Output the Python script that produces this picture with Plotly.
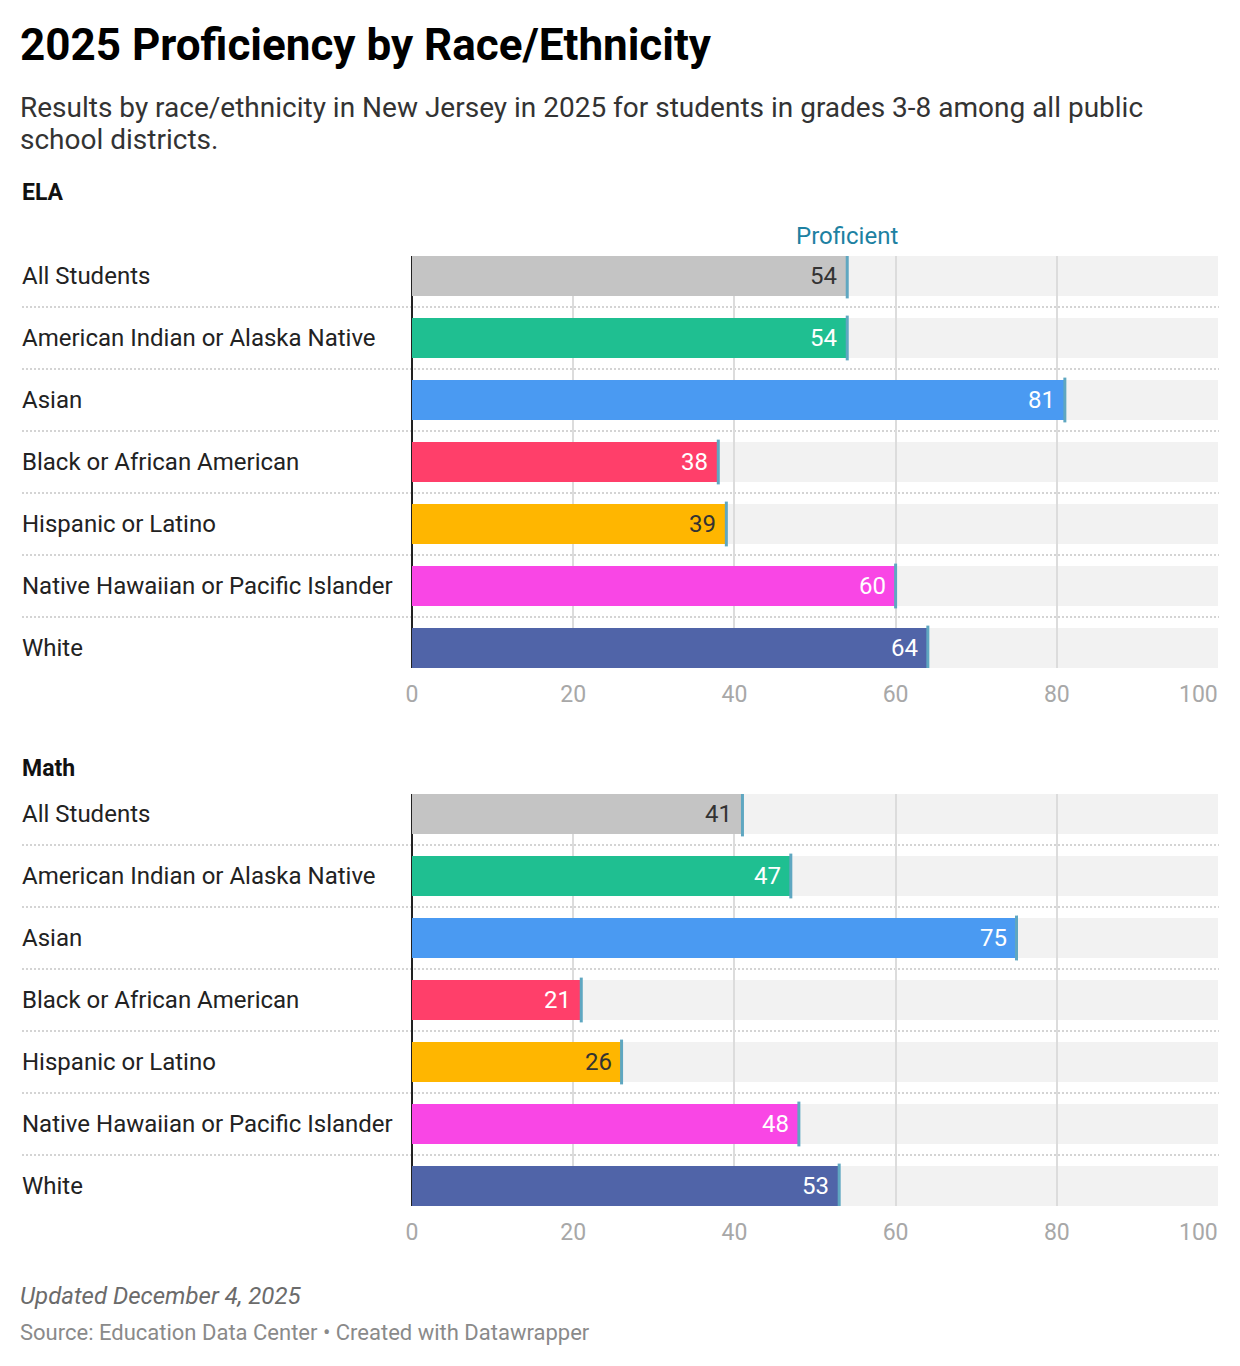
import plotly.graph_objects as go

# data
groups = ["All Students", "American Indian or Alaska Native", "Asian",
          "Black or African American", "Hispanic or Latino",
          "Native Hawaiian or Pacific Islander", "White"]
ela = [54, 54, 81, 38, 39, 60, 64]
math = [41, 47, 75, 21, 26, 48, 53]
colors = ["#c4c4c4", "#1fbf91", "#4a9af2", "#ff3f6a", "#ffb600", "#f946e5", "#5064a8"]
label_colors = ["#333333", "#ffffff", "#ffffff", "#ffffff", "#333333", "#ffffff", "#ffffff"]
ticks = [0, 20, 40, 60, 80, 100]

# the page body adds an 8px margin, so the figure is 16px smaller than the window
PAD = 8
W, H = 1240 - 2 * PAD, 1366 - 2 * PAD
FONT = "Roboto"
MARK = "#5fa7c1"
HALF = 20 / 62  # half bar height in row units
TICKFONT = dict(family=FONT, size=23, color="#a8a8a8")


def px(x):
    # window pixel column -> paper x
    return (x - PAD) / W


def py(y):
    # window pixel row -> paper y
    return 1 - (y - PAD) / H


fig = go.Figure()
annotations = []
shapes = []

# name, values, axes, header row, tick label row
panels = [("ELA", ela, "x", "y", 192, 694), ("Math", math, "x2", "y2", 768, 1232)]
for name, vals, xa, ya, head_y, tick_y in panels:
    fig.add_trace(go.Bar(x=vals, y=groups, orientation="h", width=2 * HALF,
                         marker=dict(color=colors, line=dict(width=0)),
                         xaxis=xa, yaxis=ya, hoverinfo="skip"))
    # "Proficient" tick at the end of each bar
    fig.add_trace(go.Scatter(x=vals, y=groups, mode="markers",
                             marker=dict(symbol="line-ns", size=32,
                                         line=dict(width=3, color=MARK)),
                             xaxis=xa, yaxis=ya, hoverinfo="skip"))
    # grey "track" behind each bar
    for i in range(len(groups)):
        shapes.append(dict(type="rect", xref=xa, yref=ya, x0=0, x1=100,
                           y0=i - HALF, y1=i + HALF, fillcolor="#f2f2f2",
                           line=dict(width=0), layer="below"))
    # dotted separators between rows
    for i in range(len(groups) - 1):
        shapes.append(dict(type="line", xref="paper", yref=ya,
                           x0=px(22), x1=px(1219), y0=i + 0.5, y1=i + 0.5,
                           line=dict(color="#d4d4d4", width=2, dash="2px,2px"),
                           layer="below"))
    for g, v, lc in zip(groups, vals, label_colors):
        annotations.append(dict(xref="paper", yref=ya, x=px(20), y=g, text=g,
                                xanchor="left", yanchor="middle", showarrow=False,
                                font=dict(family=FONT, size=24, color="#222")))
        annotations.append(dict(xref=xa, yref=ya, x=v, y=g, text=str(v),
                                xanchor="right", yanchor="middle", xshift=-8,
                                showarrow=False,
                                font=dict(family=FONT, size=24, color=lc)))
    annotations.append(dict(xref="paper", yref="paper", x=px(20), y=py(head_y),
                            text="<b>%s</b>" % name, xanchor="left", yanchor="middle",
                            showarrow=False, font=dict(family=FONT, size=23, color="#111")))
    # last tick label sits flush with the end of the axis
    annotations.append(dict(xref=xa, yref="paper", x=ticks[-1], y=py(tick_y),
                            text=str(ticks[-1]), xanchor="right", yanchor="middle",
                            xshift=2, showarrow=False, font=TICKFONT))

annotations.append(dict(xref="x", yref="paper", x=ela[0], y=py(236), text="Proficient",
                        xanchor="center", yanchor="middle", showarrow=False,
                        font=dict(family=FONT, size=24, color="#1d81a2")))

annotations += [
    dict(xref="paper", yref="paper", x=px(18), y=py(45), text="<b>2025 Proficiency by Race/Ethnicity</b>",
         xanchor="left", yanchor="middle", showarrow=False,
         font=dict(family=FONT, size=44, color="#000")),
    dict(xref="paper", yref="paper", x=px(18), y=py(107),
         text="Results by race/ethnicity in New Jersey in 2025 for students in grades 3-8 among all public",
         xanchor="left", yanchor="middle", showarrow=False,
         font=dict(family=FONT, size=28, color="#333")),
    dict(xref="paper", yref="paper", x=px(18), y=py(140), text="school districts.",
         xanchor="left", yanchor="middle", showarrow=False,
         font=dict(family=FONT, size=28, color="#333")),
    dict(xref="paper", yref="paper", x=px(18), y=py(1296), text="<i>Updated December 4, 2025</i>",
         xanchor="left", yanchor="middle", showarrow=False,
         font=dict(family=FONT, size=24, color="#6b6b6b")),
    dict(xref="paper", yref="paper", x=px(18), y=py(1332),
         text="Source: Education Data Center • Created with Datawrapper",
         xanchor="left", yanchor="middle", showarrow=False,
         font=dict(family=FONT, size=22, color="#8a8a8a")),
]

xdom = [px(412), px(1218)]
xaxis_style = dict(domain=xdom, range=[0, 100], tickvals=ticks,
                   ticktext=[str(t) for t in ticks[:-1]] + [""], showgrid=True,
                   gridcolor="#dcdcdc", gridwidth=1.5, zeroline=True,
                   zerolinecolor="#222", zerolinewidth=2, showline=False,
                   ticks="", ticklabelstandoff=10, fixedrange=True, automargin=False,
                   tickfont=TICKFONT)
yaxis_style = dict(type="category", range=[len(groups) - 1 + HALF, -HALF],
                   showticklabels=False, showgrid=False, zeroline=False,
                   ticks="", fixedrange=True, automargin=False)

fig.update_layout(
    width=W, height=H, margin=dict(l=0, r=0, t=0, b=0, autoexpand=False),
    paper_bgcolor="white", plot_bgcolor="white", showlegend=False,
    bargap=0,
    xaxis=dict(anchor="y", **xaxis_style),
    xaxis2=dict(anchor="y2", **xaxis_style),
    yaxis=dict(anchor="x", domain=[py(668), py(256)], **yaxis_style),
    yaxis2=dict(anchor="x2", domain=[py(1206), py(794)], **yaxis_style),
    shapes=shapes, annotations=annotations,
)

fig.write_html("out.html")
